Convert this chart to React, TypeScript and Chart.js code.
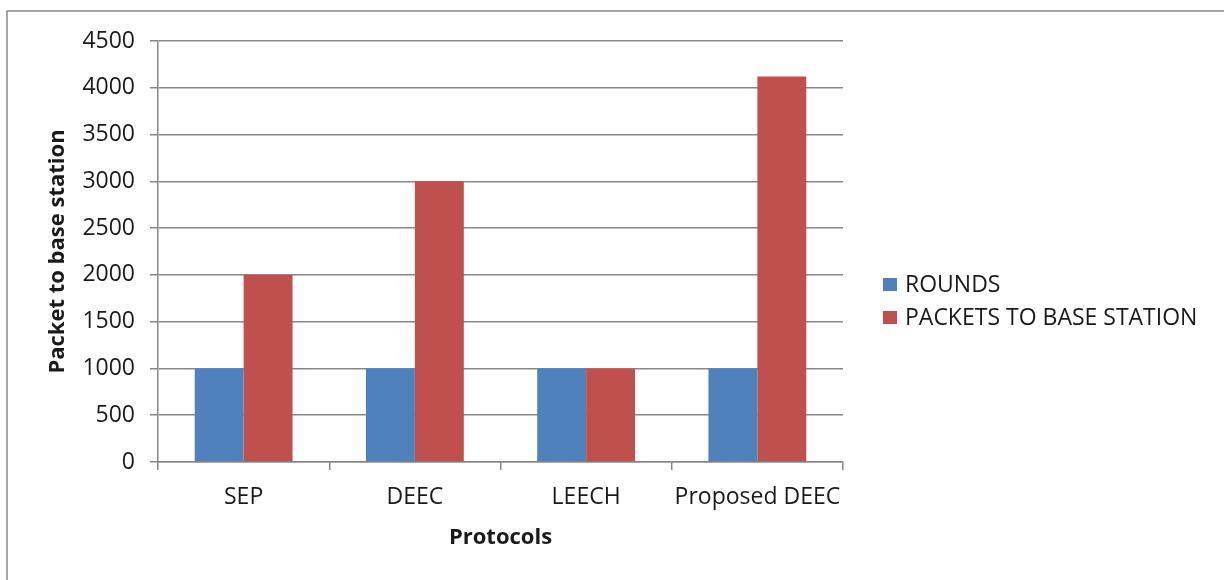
import { useEffect, useRef } from "react";
import { Chart, registerables } from "chart.js";

Chart.register(...registerables);

// Protocol comparison data
const protocols = ["SEP", "DEEC", "LEECH", "Proposed DEEC"];
const rounds = [1000, 1000, 1000, 1000];
const packetsToBaseStation = [2000, 3000, 1000, 4120];
const seriesNames = ["ROUNDS", "PACKETS TO BASE STATION"];
const seriesColors = ["#4F81BD", "#C0504D"];
const yMin = 0;
const yMax = 4500;
const yStep = 500;
const xTitle = "Protocols";
const yTitle = "Packet to base station";

const FONT = "'Open Sans', 'Noto Sans', sans-serif";
const LINE = "#878787";
const TEXT = "#1a1a1a";

// White background plus the outer frame lines
const framePlugin = {
  id: "frame",
  beforeDraw(chart: any) {
    const { ctx, width, height } = chart;
    ctx.save();
    ctx.fillStyle = "#ffffff";
    ctx.fillRect(0, 0, width, height);
    ctx.strokeStyle = LINE;
    ctx.lineWidth = 1.5;
    ctx.beginPath();
    ctx.moveTo(7, height);
    ctx.lineTo(7, 11);
    ctx.lineTo(width, 11);
    ctx.stroke();
    ctx.restore();
  },
};

// Legend drawn to the right of the plot area
const sideLegendPlugin = {
  id: "sideLegend",
  afterDraw(chart: any) {
    const { ctx, chartArea } = chart;
    const left = chartArea.right + 40;
    const firstRow = 284.5;
    const rowGap = 33;
    ctx.save();
    ctx.font = `23px ${FONT}`;
    ctx.textBaseline = "middle";
    ctx.textAlign = "left";
    chart.data.datasets.forEach((ds: any, i: number) => {
      const cy = firstRow + i * rowGap;
      ctx.fillStyle = ds.backgroundColor;
      ctx.fillRect(left, cy - 6.5, 14, 13);
      ctx.fillStyle = TEXT;
      ctx.fillText(ds.label, left + 22, cy + 1);
    });
    ctx.restore();
  },
};

export default function App() {
  const canvasRef = useRef<HTMLCanvasElement | null>(null);

  useEffect(() => {
    const canvas = canvasRef.current;
    if (!canvas) return;
    const chart = new Chart(canvas, {
      type: "bar",
      data: {
        labels: protocols,
        datasets: [
          {
            label: seriesNames[0],
            data: rounds,
            backgroundColor: seriesColors[0],
            categoryPercentage: 2 / 3.5,
            barPercentage: 1,
          },
          {
            label: seriesNames[1],
            data: packetsToBaseStation,
            backgroundColor: seriesColors[1],
            categoryPercentage: 2 / 3.5,
            barPercentage: 1,
          },
        ],
      },
      options: {
        responsive: false,
        animation: false,
        devicePixelRatio: 1,
        layout: { padding: { left: 0, right: 381, top: 41, bottom: 0 } },
        plugins: {
          legend: { display: false },
          tooltip: { enabled: false },
        },
        scales: {
          x: {
            grid: {
              display: true,
              offset: true,
              drawOnChartArea: false,
              drawTicks: true,
              tickLength: 8,
              color: LINE,
              lineWidth: 1.5,
            },
            border: { display: true, color: LINE, width: 1.5 },
            ticks: {
              color: TEXT,
              font: { family: FONT, size: 23 },
              padding: 14,
              maxRotation: 0,
              autoSkip: false,
            },
            title: {
              display: true,
              text: xTitle,
              color: TEXT,
              font: { family: FONT, size: 22, weight: "bold" },
              padding: { top: 0, bottom: 29 },
            },
            afterFit(scale: any) {
              scale.height = 118;
            },
          },
          y: {
            min: yMin,
            max: yMax,
            grid: {
              color: LINE,
              lineWidth: 1.5,
              drawTicks: true,
              tickLength: 8,
            },
            border: { display: true, color: LINE, width: 1.5 },
            ticks: {
              stepSize: yStep,
              color: TEXT,
              font: { family: FONT, size: 23 },
              padding: 15,
              callback: (value: any) => String(value),
            },
            title: {
              display: true,
              text: yTitle,
              color: TEXT,
              font: { family: FONT, size: 22, weight: "bold" },
              padding: { top: 45, bottom: 0 },
            },
            afterFit(scale: any) {
              scale.width = 158;
            },
          },
        },
      },
      plugins: [framePlugin, sideLegendPlugin],
    });
    return () => chart.destroy();
  }, []);

  return (
    <div style={{ position: "fixed", left: 0, top: 0, width: 1224, height: 580 }}>
      <canvas ref={canvasRef} width={1224} height={580} style={{ width: 1224, height: 580, display: "block" }} />
    </div>
  );
}
